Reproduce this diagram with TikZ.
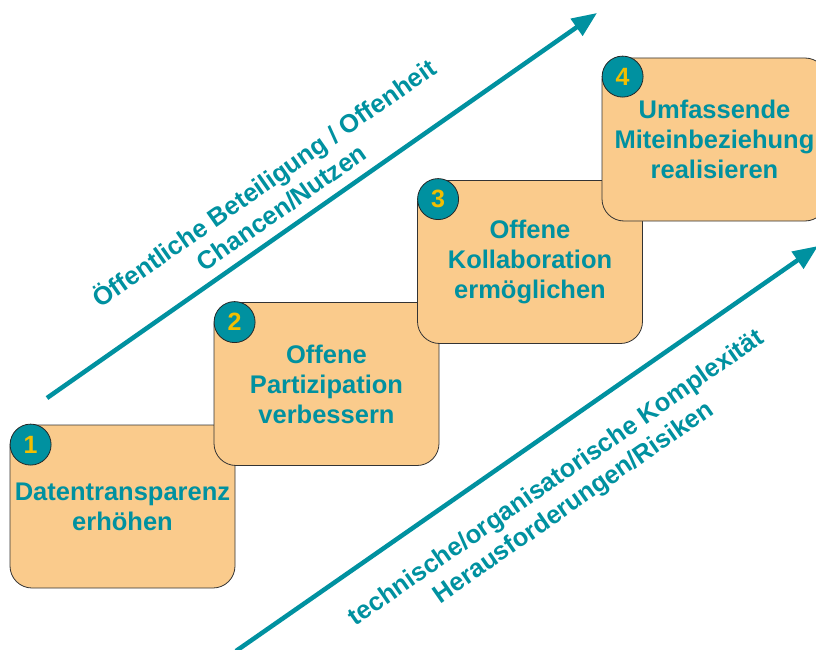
\documentclass[tikz,border=0pt]{standalone}
\usepackage{fontspec}
\setmainfont{Liberation Sans}
\usetikzlibrary{arrows.meta,calc}
\definecolor{tealc}{RGB}{0,145,160}
\definecolor{boxfill}{RGB}{250,203,140}
\definecolor{numgold}{RGB}{242,190,0}
\begin{document}
\begin{tikzpicture}[x=1pt,y=-1pt,
  stepbox/.style={draw=black!80, line width=0.8pt, fill=boxfill, rounded corners=22pt,
    minimum width=225pt, minimum height=163pt, inner sep=0pt, align=center,
    text=tealc, font=\fontsize{25.5}{30}\selectfont\bfseries},
  numdisc/.style={circle, draw=black!85, line width=0.8pt, fill=tealc, minimum size=41pt,
    inner sep=0pt, text=numgold, font=\fontsize{25}{25}\selectfont\bfseries},
  bigarrow/.style={draw=tealc, line width=4.5pt, -{Triangle[length=25pt,width=20pt]}},
  slanted/.style={text=tealc, font=\fontsize{25.5}{30}\selectfont\bfseries,
    align=center, inner sep=0pt}]
\useasboundingbox (0,0) rectangle (816,650);
\clip (0,0) rectangle (816,650);

% arrows
\coordinate (ua) at (47,398);
\coordinate (ub) at (597,13);
\coordinate (la) at (236,651);
\coordinate (lb) at (818,246);
\draw[bigarrow] (ua) -- (ub);
\draw[bigarrow] (la) -- (lb);

% slanted labels
\node[slanted, rotate=35] (upper) at (272,194)
  {Öffentliche Beteiligung / Offenheit\\Chancen/Nutzen};
\node[slanted, rotate=34.8] (lower) at (565.5,491)
  {technische/organisatorische Komplexität\\Herausforderungen/Risiken};

% boxes
\node[stepbox] (b1) at (122.5,506.5) {Datentransparenz\\erhöhen};
\node[numdisc] (n1) at ($(b1.north west)+(21,20)$) {1};
\node[stepbox] (b2) at (326.5,384) {Offene\\Partizipation\\verbessern};
\node[numdisc] (n2) at ($(b2.north west)+(21,20)$) {2};
\node[stepbox] (b3) at (530,262) {Offene\\Kollaboration\\ermöglichen};
\node[numdisc] (n3) at ($(b3.north west)+(21,19)$) {3};
\node[stepbox] (b4) at (714.5,139.5) {Umfassende\\Miteinbeziehung\\realisieren};
\node[numdisc] (n4) at ($(b4.north west)+(21,19)$) {4};
\end{tikzpicture}
\end{document}
